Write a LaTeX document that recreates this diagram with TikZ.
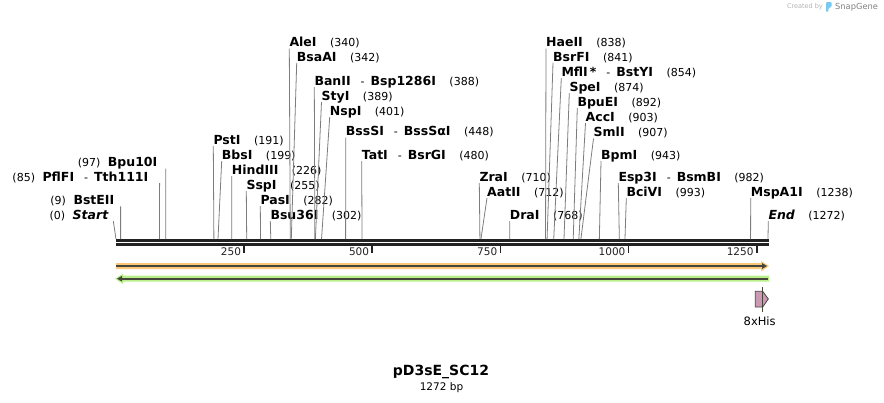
\documentclass[tikz,border=0pt]{standalone}
\usepackage{fontspec}
\setmainfont{DejaVu Sans}
\usepackage{xcolor}
\usepackage{tikz}
\usetikzlibrary{positioning,calc,arrows.meta}

\definecolor{bbdark}{RGB}{34,34,34}
\definecolor{cutgray}{RGB}{125,125,125}
\definecolor{orangeband}{RGB}{250,200,120}
\definecolor{greenband}{RGB}{185,240,135}
\definecolor{featdark}{RGB}{70,70,60}
\definecolor{hispink}{RGB}{204,153,180}
\definecolor{logoblue}{RGB}{120,200,240}

\newcommand\ename[1]{{\fontsize{12.5}{14}\selectfont\bfseries #1}}
\newcommand\esep{\hspace{10pt}-\hspace{6pt}}

\begin{document}
\begin{tikzpicture}[x=1pt, y=-1pt,
    enzlabel/.style={inner sep=0pt, font=\fontsize{11}{13}\selectfont},
    cutline/.style={cutgray, line width=0.8pt},
    backbone/.style={bbdark, line width=2.6pt},
    tickmark/.style={bbdark, line width=1.8pt},
    ticklabel/.style={inner sep=0pt, font=\fontsize{10.5}{12}\selectfont, text=bbdark},
    featline/.style={featdark, line width=1.6pt}]
    \useasboundingbox (0,0) rectangle (884,402);

    % Backbone
    \draw[backbone] (116,240.3) -- (768.6,240.3);
    \draw[backbone] (116,244.3) -- (768.6,244.3);
    \foreach \t in {250,500,...,1250} {
        \draw[tickmark] (116+\t*0.51258,245.5) -- ++(0,7);
        \node[ticklabel, anchor=base east] (tk\t) at (113+\t*0.51258,255) {\t};
    }

    % Sites labelled on the right
    \foreach \p/\lx/\by/\nm in {191/213.3/144/\ename{PstI},
        199/221.7/159/\ename{BbsI},
        226/231.7/174/\ename{HindIII},
        255/246.3/189/\ename{SspI},
        282/260.3/204/\ename{PasI},
        302/270.3/219/\ename{Bsu36I},
        340/289.3/46.5/\ename{AleI},
        342/296.7/61/\ename{BsaAI},
        388/314.3/85/{\ename{BanII}\esep\ename{Bsp1286I}},
        389/321.5/100/\ename{StyI},
        401/329.7/115/\ename{NspI},
        448/345.7/135.5/{\ename{BssSI}\esep\ename{BssSαI}},
        480/361.7/159/{\ename{TatI}\esep\ename{BsrGI}},
        710/479.3/181/\ename{ZraI},
        712/487/196/\ename{AatII},
        768/509.7/219/\ename{DraI},
        838/546/46.5/\ename{HaeII},
        841/553/61/\ename{BsrFI},
        854/561.3/76/{\ename{MflI\,*}\esep\ename{BstYI}},
        874/569.3/91/\ename{SpeI},
        892/577.3/106/\ename{BpuEI},
        903/585.5/121/\ename{AccI},
        907/593.5/136.5/\ename{SmlI},
        943/601/159/\ename{BpmI},
        982/618.3/181/{\ename{Esp3I}\esep\ename{BsmBI}},
        993/626.3/196/\ename{BciVI},
        1238/750.7/196/\ename{MspA1I},
        1272/768.3/219/\ename{\itshape End}} {
        \coordinate (s\p) at (116+\p*0.51258,239);
        \node[enzlabel, anchor=base west] (e\p) at (\lx,\by) {\nm\hspace{13.5pt}(\p)};
        \draw[cutline] (s\p) -- ($(e\p.base west)+(0,2)$);
    }

    % Sites labelled on the left
    \foreach \p/\rx/\by/\tx/\nm in {0/108.5/219/113.3/\ename{\itshape Start},
        9/114.5/204.3/120.6/\ename{BstEII},
        85/148.5/181/159.6/{\ename{PflFI}\esep\ename{Tth111I}},
        97/157.5/166.5/165.7/\ename{Bpu10I}} {
        \coordinate (s\p) at (116+\p*0.51258,239);
        \node[enzlabel, anchor=base east] (e\p) at (\rx,\by) {(\p)\hspace{7.5pt}\nm};
        \coordinate (t\p) at (\tx,\by+2);
        \draw[cutline] (s\p) -- (t\p);
    }

    % Forward feature
    \fill[orangeband] (116,263) -- (761,263) -- (761,261) -- (769,266) -- (761,271.5) -- (761,269) -- (116,269) -- cycle;
    \draw[featline, -{Triangle[length=5pt,width=5.5pt]}] (116,266) -- (767,266);

    % Reverse feature
    \fill[greenband] (115,278.7) -- (123,273.7) -- (123,275.7) -- (769,275.7) -- (769,281.7) -- (123,281.7) -- (123,284) -- cycle;
    \draw[featline, -{Triangle[length=5pt,width=5.5pt]}] (768,278.7) -- (117,278.7);

    % 8xHis
    \filldraw[fill=hispink, draw=featdark, line width=0.8pt] (755.3,291.3) -- (762.7,291.3) -- (768.3,299) -- (762.7,307) -- (755.3,307) -- cycle;
    \draw[featdark, line width=0.8pt] (762.7,286.7) -- (762.7,312);
    \node[inner sep=0pt, font=\fontsize{11.5}{13}\selectfont, anchor=base] (his) at (759.7,325) {8xHis};

    % Name and length
    \node[inner sep=0pt, font=\fontsize{14}{16}\selectfont\bfseries, anchor=base] (title) at (441,375.7) {pD3sE\_SC12};
    \node[inner sep=0pt, font=\fontsize{10.5}{12}\selectfont, anchor=base] (bplen) at (441.5,390) {1272 bp};

    % Watermark
    \node[inner sep=0pt, font=\fontsize{6.5}{7}\selectfont, text=gray!60, anchor=east] (made) at (823,7) {Created by};
    \fill[logoblue, rounded corners=1.2pt] (826,2) -- (831.7,2) -- (831.7,7) -- (828.3,8) -- (828.3,12) -- (826,12) -- cycle;
    \node[inner sep=0pt, font=\fontsize{8.3}{9}\selectfont, text=gray, anchor=west] (snap) at (835,7) {SnapGene};
\end{tikzpicture}
\end{document}
